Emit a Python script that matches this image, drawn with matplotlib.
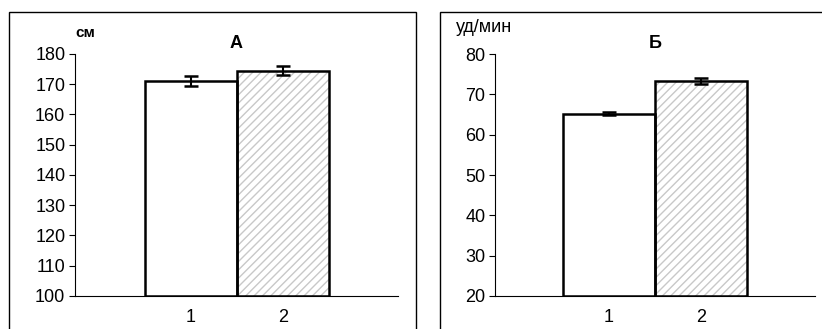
import matplotlib.pyplot as plt
from matplotlib.patches import Rectangle

plt.rcParams['font.family'] = ['Liberation Sans', 'DejaVu Sans']
plt.rcParams['hatch.linewidth'] = 1.0

# --- Données ---
groupes = ['1', '2']
taille = [171.1, 174.5]
taille_err = [1.6, 1.6]
pouls = [65.2, 73.3]
pouls_err = [0.3, 0.7]

W, H = 822, 329
fig = plt.figure(figsize=(W / 100, H / 100), dpi=100)

# cadres autour des deux panneaux
for (x0, x1) in [(9, 416), (440, 830)]:
    fig.patches.append(Rectangle((x0 / W, -0.1), (x1 - x0) / W, 1.1 - 12 / H,
                                 transform=fig.transFigure, fill=False,
                                 edgecolor='black', linewidth=1.0))


def panneau(rect, valeurs, erreurs, ylim, pas, titre, unite, unite_xy, unite_style, xlim):
    ax = fig.add_axes(rect)
    x = range(len(valeurs))
    # hachures grises sur la barre 2
    ax.bar([1], [valeurs[1] - ylim[0]], bottom=ylim[0], width=1.0, color='white',
           hatch='////', edgecolor='#c8c8c8', linewidth=0)
    ax.bar([0], [valeurs[0] - ylim[0]], bottom=ylim[0], width=1.0, color='white',
           linewidth=0)
    ax.bar(list(x), [v - ylim[0] for v in valeurs], bottom=ylim[0], width=1.0,
           fill=False, edgecolor='black', linewidth=1.8, zorder=3)
    ax.errorbar(list(x), valeurs, yerr=erreurs, fmt='none', ecolor='black',
                elinewidth=1.5, capsize=5, capthick=1.8, zorder=4)
    ax.set_ylim(*ylim)
    ax.set_xlim(*xlim)
    ax.set_yticks(range(ylim[0], ylim[1] + 1, pas))
    ax.set_xticks(list(x))
    ax.set_xticklabels(groupes)
    ax.tick_params(axis='y', length=4, width=0.8, labelsize=13, pad=3)
    ax.tick_params(axis='x', length=0, labelsize=13, pad=9)
    for s in ['top', 'right']:
        ax.spines[s].set_visible(False)
    ax.spines['left'].set_linewidth(0.8)
    ax.spines['bottom'].set_linewidth(0.8)
    ax.set_title(titre, fontsize=13, fontweight='bold', pad=4)
    fig.text(unite_xy[0] / W, 1 - unite_xy[1] / H, unite, ha='left', va='center',
             **unite_style)
    return ax


# Panneau A
panneau([75 / W, 1 - 296 / H, (398 - 75) / W, (296 - 54) / H],
        taille, taille_err, (100, 180), 10, 'А', 'см', (75, 33),
        dict(fontsize=11, fontweight='bold'), (-1.26, 2.25))
# Panneau Б
panneau([495 / W, 1 - 296 / H, (815 - 495) / W, (296 - 54) / H],
        pouls, pouls_err, (20, 80), 10, 'Б', 'уд/мин', (456, 27),
        dict(fontsize=13), (-1.24, 2.24))

fig.savefig('out.png', dpi=100)
